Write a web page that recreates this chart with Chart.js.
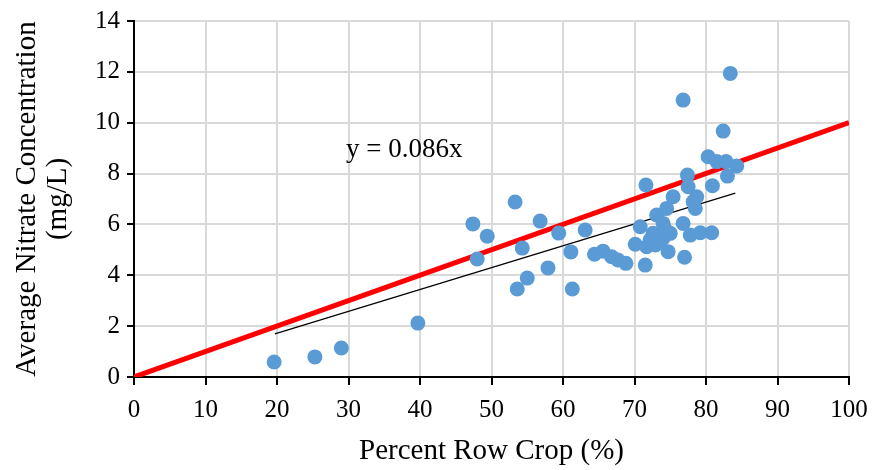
<!DOCTYPE html>
<html>
<head>
<meta charset="utf-8">
<script src="https://cdn.jsdelivr.net/npm/chart.js@4.4.1/dist/chart.umd.min.js"></script>
<style>
  html, body { margin: 0; padding: 0; background: #fff; }
  #wrap { width: 872px; height: 470px; }
</style>
</head>
<body>
<div id="wrap"><canvas id="chart" width="872" height="470"></canvas></div>
<script>
// ── DATA ───────────────────────────────────────────────────────
const rowCrop = [
  19.6, 25.3, 29.0, 39.7,
  47.4, 48.0, 49.4, 53.3, 53.6, 54.3, 55.0, 56.8, 57.9, 59.4, 61.3, 61.1, 63.1,
  64.4, 65.6, 66.8, 67.7, 68.8,
  70.1, 70.8, 71.5, 71.7, 72.6, 72.9, 73.1, 74.0, 74.0, 74.5, 74.7, 75.0, 73.5, 72.2, 74.3,
  75.4, 71.6, 76.8, 77.0, 77.4, 77.5, 77.8, 78.2, 78.5, 78.7, 79.2, 80.8, 80.9,
  80.3, 81.5, 82.8, 83.0, 84.3, 82.4, 76.8, 83.4
];
const nitrate = [
  0.59, 0.79, 1.14, 2.12,
  6.02, 4.64, 5.54, 6.88, 3.46, 5.07, 3.89, 6.13, 4.29, 5.66, 3.46, 4.92, 5.78,
  4.83, 4.95, 4.73, 4.60, 4.47,
  5.22, 5.91, 4.40, 5.12, 5.65, 5.19, 6.37, 6.04, 5.46, 6.63, 4.93, 5.65, 5.30, 5.40, 5.80,
  7.09, 7.55, 6.04, 4.71, 7.94, 7.48, 5.58, 6.89, 6.63, 7.09, 5.67, 5.67, 7.52,
  8.66, 8.47, 8.47, 7.90, 8.30, 9.67, 10.89, 11.94
];

// fitted line y = 0.086x over the data range, and the 1:10 reference line
const fitSlope = 0.086;
const fitX = [19.7, 84.1];
const refX = [0, 100];
const refY = [0, 10];

const xTicks = [0, 10, 20, 30, 40, 50, 60, 70, 80, 90, 100];
const yTicks = [0, 2, 4, 6, 8, 10, 12, 14];

const eqLabel = 'y = 0.086x';
const eqPos = { x: 37.8, y: 8.93 };

// ── CHART ──────────────────────────────────────────────────────
const serif = "'Liberation Serif', 'Times New Roman', serif";

const eqPlugin = {
  id: 'eqLabel',
  afterDatasetsDraw(chart) {
    const { ctx, scales } = chart;
    ctx.save();
    ctx.font = `27px ${serif}`;
    ctx.fillStyle = '#000';
    ctx.textAlign = 'center';
    ctx.textBaseline = 'middle';
    ctx.fillText(eqLabel, scales.x.getPixelForValue(eqPos.x), scales.y.getPixelForValue(eqPos.y));
    ctx.restore();
  }
};

new Chart(document.getElementById('chart'), {
  type: 'scatter',
  data: {
    datasets: [
      {
        data: rowCrop.map((x, i) => ({ x, y: nitrate[i] })),
        backgroundColor: '#5B9BD5',
        borderWidth: 0,
        pointRadius: 7.5,
        order: 0,
      },
      {
        type: 'line',
        data: fitX.map(x => ({ x, y: fitSlope * x })),
        borderColor: '#000',
        borderWidth: 1.2,
        pointRadius: 0,
        order: 1,
      },
      {
        type: 'line',
        data: refX.map((x, i) => ({ x, y: refY[i] })),
        borderColor: '#FF0000',
        borderWidth: 5,
        pointRadius: 0,
        order: 2,
      },
    ],
  },
  options: {
    responsive: false,
    animation: false,
    events: [],
    layout: { padding: { top: 21, right: 23, left: 0, bottom: 0 } },
    plugins: { legend: { display: false }, tooltip: { enabled: false } },
    scales: {
      x: {
        type: 'linear',
        min: 0, max: 100,
        afterBuildTicks: s => { s.ticks = xTicks.map(v => ({ value: v })); },
        afterFit: s => { s.height = 93; s.paddingLeft = 0; s.paddingRight = 0; },
        grid: { color: '#d9d9d9', lineWidth: 2, tickColor: '#000', tickLength: 8, tickWidth: 2 },
        border: { color: '#000', width: 2 },
        ticks: { color: '#000', font: { family: serif, size: 25 }, padding: 10, maxRotation: 0 },
        title: {
          display: true,
          text: 'Percent Row Crop (%)',
          color: '#000',
          font: { family: serif, size: 29, lineHeight: 1.2 },
          padding: { top: 0, bottom: 1 },
        },
      },
      y: {
        type: 'linear',
        min: 0, max: 14,
        afterBuildTicks: s => { s.ticks = yTicks.map(v => ({ value: v })); },
        afterFit: s => { s.width = 134; s.paddingTop = 0; s.paddingBottom = 0; },
        grid: { color: '#d9d9d9', lineWidth: 2, tickColor: '#000', tickLength: 7, tickWidth: 2 },
        border: { color: '#000', width: 2 },
        ticks: { color: '#000', font: { family: serif, size: 25 }, padding: 7 },
        title: {
          display: true,
          text: ['Average Nitrate Concentration', '(mg/L)'],
          color: '#000',
          font: { family: serif, size: 29, lineHeight: 1.1 },
          padding: { top: 11, bottom: 0 },
        },
      },
    },
  },
  plugins: [eqPlugin],
});
</script>
</body>
</html>
